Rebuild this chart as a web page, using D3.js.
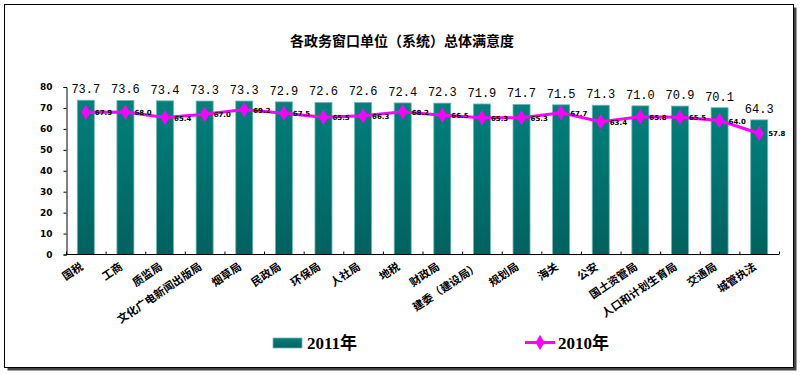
<!DOCTYPE html>
<html>
<head>
<meta charset="utf-8">
<script src="https://cdn.jsdelivr.net/npm/d3@7"></script>
<style>
  body { margin: 0; background: #fff; }
  svg { display: block; }
</style>
</head>
<body>
<div id="chart"></div>
<script>
// data
const units = ['国税', '工商', '质监局', '文化广电新闻出版局', '烟草局', '民政局', '环保局', '人社局', '地税',
  '财政局', '建委（建设局）', '规划局', '海关', '公安', '国土资管局', '人口和计划生育局', '交通局', '城管执法']
const score2011 = [73.7, 73.6, 73.4, 73.3, 73.3, 72.9, 72.6, 72.6, 72.4, 72.3, 71.9, 71.7, 71.5, 71.3, 71.0, 70.9, 70.1, 64.3]
const score2010 = [67.9, 68.0, 65.4, 67.0, 69.2, 67.5, 65.5, 66.3, 68.2, 66.5, 65.3, 65.3, 67.7, 63.4, 65.8, 65.5, 64.0, 57.8]
const yTicks = [0, 10, 20, 30, 40, 50, 60, 70, 80]

const width = 801, height = 375

let svg = d3.select('#chart').append('svg')
  .attr('width', width)
  .attr('height', height)

// frame with shadow
svg.append('rect')
  .attr('x', 7.5).attr('y', 7.5)
  .attr('width', 789).attr('height', 363)
  .attr('fill', '#444')
svg.append('rect')
  .attr('x', 4.5).attr('y', 4.5)
  .attr('width', 789).attr('height', 363)
  .attr('fill', '#fff')
  .attr('stroke', '#000')

let defs = svg.append('defs')
let grad = defs.append('linearGradient')
  .attr('id', 'barFill')
  .attr('x1', 0).attr('y1', 0).attr('x2', 0).attr('y2', 1)
grad.append('stop').attr('offset', '0%').attr('stop-color', '#00807c')
grad.append('stop').attr('offset', '100%').attr('stop-color', '#00625f')

svg.append('text')
  .attr('x', 402).attr('y', 46)
  .attr('text-anchor', 'middle')
  .style('font-family', '"Noto Sans CJK SC"')
  .style('font-weight', 'bold')
  .style('font-size', '14px')
  .text('各政务窗口单位（系统）总体满意度')

let x = d3.scaleBand().domain(units).range([66, 779]).paddingInner(0.57).paddingOuter(0.285)
let y = d3.scaleLinear().domain([0, 80]).range([254.5, 87])

// y axis
let yAxis = svg.append('g')
  .attr('transform', 'translate(66.5,0)')
  .call(d3.axisLeft(y).tickValues(yTicks).tickSize(3).tickPadding(11))
yAxis.select('.domain').attr('stroke', '#000')
yAxis.selectAll('.tick line').attr('stroke', '#000')
yAxis.selectAll('.tick text')
  .style('font-family', '"DejaVu Sans"')
  .style('font-weight', 'bold')
  .style('font-size', '9px')
  .attr('fill', '#000')

// bars
svg.append('g')
  .selectAll('rect')
  .data(score2011)
  .enter()
  .append('rect')
  .attr('x', (d, i) => x(units[i]))
  .attr('y', d => y(d))
  .attr('width', x.bandwidth())
  .attr('height', d => y(0) - y(d))
  .attr('fill', 'url(#barFill)')
  .attr('stroke', '#74b8b5')
  .attr('stroke-width', 0.8)

svg.append('g')
  .selectAll('text')
  .data(score2011)
  .enter()
  .append('text')
  .attr('x', (d, i) => x(units[i]) + x.bandwidth() / 2)
  .attr('y', d => y(d) - 7)
  .attr('text-anchor', 'middle')
  .style('font-family', '"Liberation Mono"')
  .style('font-size', '12px')
  .text(d => d.toFixed(1))

// x axis
let step = x.step()
let xAxis = svg.append('g')
xAxis.append('line')
  .attr('x1', 66).attr('x2', 779)
  .attr('y1', y(0)).attr('y2', y(0))
  .attr('stroke', '#000')
xAxis.selectAll('.tk')
  .data(d3.range(units.length + 1))
  .enter()
  .append('line')
  .attr('x1', i => 66.5 + i * step).attr('x2', i => 66.5 + i * step)
  .attr('y1', y(0) - 3).attr('y2', y(0))
  .attr('stroke', '#000')

xAxis.selectAll('text')
  .data(units)
  .enter()
  .append('text')
  .attr('transform', d => `translate(${x(d) + x.bandwidth() / 2 - 2},${y(0) + 14}) rotate(-34)`)
  .attr('text-anchor', 'end')
  .style('font-family', '"Noto Sans CJK SC"')
  .style('font-weight', 'bold')
  .style('font-size', '11px')
  .text(d => d)

// 2010 line
let line = d3.line()
  .x((d, i) => x(units[i]) + x.bandwidth() / 2)
  .y(d => y(d))

svg.append('path')
  .datum(score2010)
  .attr('d', line)
  .attr('fill', 'none')
  .attr('stroke', '#ff00ff')
  .attr('stroke-width', 3)

let diamond = d3.symbol().type(d3.symbolDiamond).size(70)

svg.append('g')
  .selectAll('path')
  .data(score2010)
  .enter()
  .append('path')
  .attr('d', diamond)
  .attr('transform', (d, i) => `translate(${x(units[i]) + x.bandwidth() / 2},${y(d)})`)
  .attr('fill', '#ff00ff')

svg.append('g')
  .selectAll('text')
  .data(score2010)
  .enter()
  .append('text')
  .attr('x', (d, i) => x(units[i]) + x.bandwidth() / 2 + 9)
  .attr('y', d => y(d) + 3)
  .style('font-family', '"DejaVu Sans"')
  .style('font-weight', 'bold')
  .style('font-size', '7px')
  .text(d => d.toFixed(1))

// legend
let legend = svg.append('g')
legend.append('rect')
  .attr('x', 273).attr('y', 338)
  .attr('width', 29).attr('height', 10)
  .attr('fill', 'url(#barFill)')
  .attr('stroke', '#74b8b5')
  .attr('stroke-width', 0.8)
legend.append('text')
  .attr('x', 307).attr('y', 349)
  .style('font-family', '"Liberation Serif", "Noto Sans CJK SC"')
  .style('font-weight', 'bold')
  .style('font-size', '17px')
  .text('2011年')

legend.append('line')
  .attr('x1', 525).attr('x2', 555)
  .attr('y1', 342.5).attr('y2', 342.5)
  .attr('stroke', '#ff00ff')
  .attr('stroke-width', 3)
legend.append('path')
  .attr('d', diamond)
  .attr('transform', 'translate(540,342.5)')
  .attr('fill', '#ff00ff')
legend.append('text')
  .attr('x', 558).attr('y', 349)
  .style('font-family', '"Liberation Serif", "Noto Sans CJK SC"')
  .style('font-weight', 'bold')
  .style('font-size', '17px')
  .text('2010年')
</script>
</body>
</html>
